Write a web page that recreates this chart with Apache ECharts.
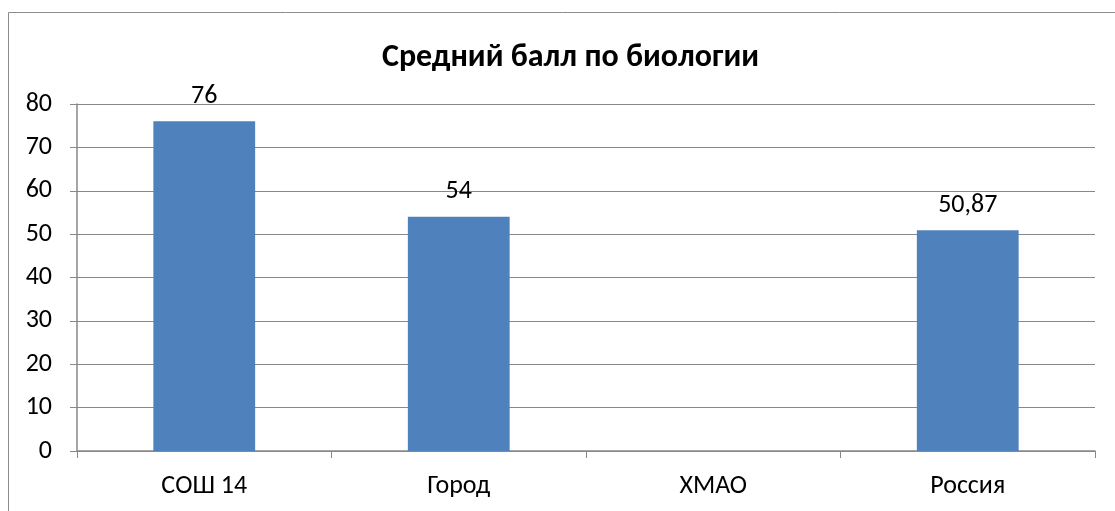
<!DOCTYPE html>
<html><head><meta charset="utf-8">
<script src="https://cdn.jsdelivr.net/npm/echarts@6/dist/echarts.min.js"></script>
<style>html,body{margin:0;padding:0;background:#fff}#c{width:1115px;height:511px}</style>
</head><body><div id="c"></div>
<script>
const titleText = 'Средний балл по биологии';
const categories = ['СОШ 14', 'Город', 'ХМАО', 'Россия'];
const values = [76, 54, null, 50.87];
const yTicks = [0, 10, 20, 30, 40, 50, 60, 70, 80];

const font = 'Carlito, Calibri, "Open Sans", "Noto Sans", sans-serif';
const chart = echarts.init(document.getElementById('c'), null, {renderer: 'canvas'});
chart.setOption({
  animation: false,
  backgroundColor: '#fff',
  graphic: [{type: 'rect', shape: {x: 8.5, y: 12.5, width: 1200, height: 600}, style: {fill: 'none', stroke: '#8c8c8c', lineWidth: 1}}],
  title: {text: titleText, left: 377, top: 37, textStyle: {fontFamily: font, fontSize: 32, fontWeight: 'bold', color: '#000'}},
  grid: {left: 77, right: 20, top: 104, bottom: 60, containLabel: false},
  xAxis: {
    type: 'category', data: categories,
    axisLine: {lineStyle: {color: '#888', width: 1.5}},
    axisTick: {show: true, length: 7, alignWithLabel: false, lineStyle: {color: '#888'}},
    axisLabel: {fontFamily: font, fontSize: 26, color: '#000', margin: 22}
  },
  yAxis: {
    type: 'value', min: yTicks[0], max: yTicks[yTicks.length - 1], interval: 10,
    axisLine: {show: true, lineStyle: {color: '#888', width: 1.5}},
    axisTick: {show: true, length: 7, lineStyle: {color: '#888'}},
    axisLabel: {fontFamily: font, fontSize: 26, color: '#000', margin: 25},
    splitLine: {lineStyle: {color: '#888', width: 1}}
  },
  series: [{
    type: 'bar', data: values, barCategoryGap: '60%',
    itemStyle: {color: '#4F81BD'},
    label: {show: true, position: 'top', distance: 12, fontFamily: font, fontSize: 26, color: '#000',
      formatter: p => String(p.value).replace('.', ',')}
  }]
});
</script></body></html>
